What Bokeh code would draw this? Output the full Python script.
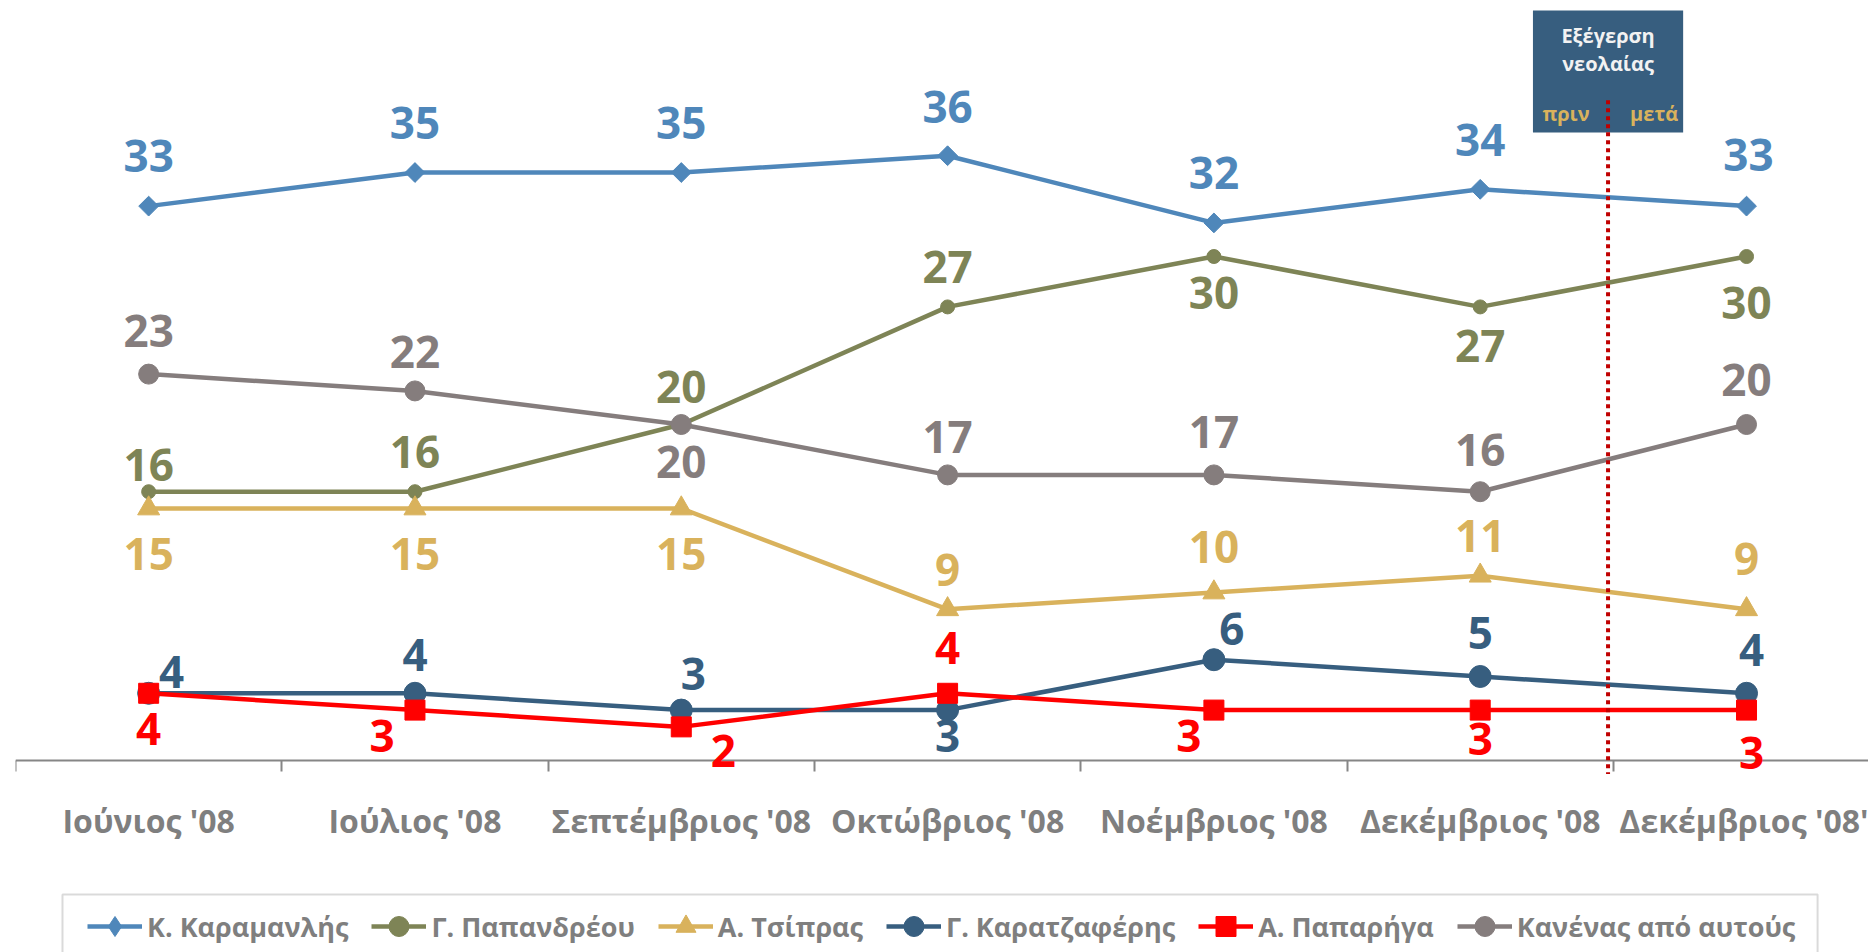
import math
from bokeh.plotting import figure
from bokeh.models import (ColumnDataSource, Range1d, FixedTicker, Legend, LegendItem,
                          BoxAnnotation, Label, LabelSet, Arrow)
from bokeh.core.properties import value
from bokeh.embed import file_html
from bokeh.resources import INLINE

# ---------------- data ----------------
months = ["Ιούνιος '08", "Ιούλιος '08", "Σεπτέμβριος '08", "Οκτώβριος '08",
          "Νοέμβριος '08", "Δεκέμβριος '08", "Δεκέμβριος '08'"]
names = ["Κ. Καραμανλής", "Γ. Παπανδρέου", "Α. Τσίπρας", "Γ. Καρατζαφέρης",
         "Α. Παπαρήγα", "Κανένας από αυτούς"]
karamanlis = [33, 35, 35, 36, 32, 34, 33]
papandreou = [16, 16, 20, 27, 30, 27, 30]
tsipras = [15, 15, 15, 9, 10, 11, 9]
karatzaferis = [4, 4, 3, 3, 6, 5, 4]
papariga = [4, 3, 2, 4, 3, 3, 3]
kanenas = [23, 22, 20, 17, 17, 16, 20]
event_title = ["Εξέγερση", "νεολαίας"]
before_after = ["πριν", "μετά"]

# ---------------- styles ----------------
FONT = "Open Sans"
GREY_TXT = "#7F7F7F"
AXIS_GREY = "#868686"
styles = [
    dict(color="#4F87BA", marker="square", angle=math.pi / 4, size=14, legend_marker="diamond",
         dx=[0, 0, 0, 0, 0, 0, 2], dy=[-50, -50, -50, -49, -50, -49, -51]),
    dict(color="#7E8456", marker="circle", angle=0, size=14, legend_marker=None,
         dx=[0] * 7, dy=[-27, -40, -38, -40, 36, 39, 46]),
    dict(color="#D9B25C", marker="triangle", angle=0, size=22, legend_marker=None,
         dx=[0] * 7, dy=[45, 45, 45, -39, -45, -40, -50]),
    dict(color="#375E7F", marker="circle", angle=0, size=22, legend_marker=None,
         dx=[23, 0, 12, 0, 18, 0, 5], dy=[-21, -38, -36, 26, -31, -43, -43]),
    dict(color="#FF0000", marker="square", angle=0, size=20, legend_marker=None,
         dx=[0, -33, 42, 0, -25, 0, 5], dy=[36, 26, 24, -45, 26, 29, 43]),
    dict(color="#857D7D", marker="circle", angle=0, size=20, legend_marker=None,
         dx=[0] * 7, dy=[-43, -39, 37, -38, -43, -42, -45]),
]
series_values = [karamanlis, papandreou, tsipras, karatzaferis, papariga, kanenas]

x = list(range(len(months)))

# frame covers the whole height; x axis is pinned at y = 0
p = figure(frame_width=1853, frame_height=952,
           min_border_left=15, min_border_right=0, min_border_top=0, min_border_bottom=0,
           x_range=Range1d(-0.5, 6.458), y_range=Range1d(-11.43, 45.24),
           y_axis_location=None, toolbar_location=None, output_backend="svg",
           background_fill_color="white", border_fill_color="white",
           outline_line_color=None)
p.xgrid.visible = False
p.ygrid.visible = False

ax = p.xaxis[0]
ax.fixed_location = 0
ax.ticker = FixedTicker(ticks=x, minor_ticks=[i - 0.5 for i in range(len(months) + 1)])
ax.major_label_overrides = {i: m for i, m in enumerate(months)}
ax.major_tick_line_color = None
ax.major_tick_out = 0
ax.major_tick_in = 0
ax.minor_tick_line_color = AXIS_GREY
ax.minor_tick_line_width = 2
ax.minor_tick_out = 11
ax.minor_tick_in = 0
ax.axis_line_color = AXIS_GREY
ax.axis_line_width = 2
ax.major_label_text_font = FONT
ax.major_label_text_font_size = "32px"
ax.major_label_text_font_style = "bold"
ax.major_label_text_color = GREY_TXT
ax.major_label_standoff = 28

# annotation box (event)
divider = 5.48
p.add_layout(BoxAnnotation(left=divider - 0.282, right=divider + 0.282, top=44.64, bottom=37.38,
                           fill_color="#375E7F", fill_alpha=1.0, line_color=None, level="underlay"))

# legend frame
p.add_layout(BoxAnnotation(left=-0.3235, right=6.2668, top=-7.976, bottom=-12.5,
                           fill_color="white", fill_alpha=0.0, line_color=AXIS_GREY,
                           line_width=2, level="underlay"))

items = []
for vals, st, name in zip(series_values, styles, names):
    src = ColumnDataSource(dict(x=x, y=vals, t=[str(v) for v in vals],
                                dx=st["dx"], dy=[-d for d in st["dy"]]))
    rl = p.line("x", "y", source=src, line_color=st["color"], line_width=4.5)
    rleg = None
    if st["legend_marker"]:
        # legend shape, hidden under the rotated square in the chart
        rleg = p.scatter("x", "y", source=src, marker=st["legend_marker"], size=18,
                         fill_color=st["color"], line_color=st["color"])
    rm = p.scatter("x", "y", source=src, marker=st["marker"], size=st["size"],
                   angle=st["angle"], fill_color=st["color"], line_color=st["color"])
    p.add_layout(LabelSet(x="x", y="y", text="t", source=src, x_offset="dx", y_offset="dy",
                          text_align="center", text_baseline="middle",
                          text_font=value(FONT), text_font_size="44px", text_font_style="bold",
                          text_color=st["color"]))
    items.append(LegendItem(label=name, renderers=[rl, rleg if rleg is not None else rm]))

# dotted divider line
p.add_layout(Arrow(end=None, x_start=divider, y_start=39.3, x_end=divider, y_end=-0.8,
                   line_color="#C00000", line_width=4, line_dash="4 4"))

box_txt = dict(text_align="center", text_baseline="middle", text_font=FONT,
               text_font_size="20px", text_font_style="bold")
p.add_layout(Label(x=divider, y=43.15, text=event_title[0], text_color="#F2F2F2", **box_txt))
p.add_layout(Label(x=divider, y=41.49, text=event_title[1], text_color="#F2F2F2", **box_txt))
p.add_layout(Label(x=divider - 0.158, y=38.51, text=before_after[0], text_color="#D9B25C", **box_txt))
p.add_layout(Label(x=divider + 0.173, y=38.51, text=before_after[1], text_color="#D9B25C", **box_txt))

legend = Legend(items=items, orientation="horizontal", location=(72, 1),
                border_line_color=None, background_fill_alpha=0.0,
                label_text_font=FONT, label_text_font_size="27px",
                label_text_font_style="bold", label_text_color=GREY_TXT,
                glyph_width=55, glyph_height=50, label_standoff=5,
                spacing=23, padding=12, margin=0)
p.add_layout(legend)

open("out.html", "w").write(file_html(p, INLINE))
